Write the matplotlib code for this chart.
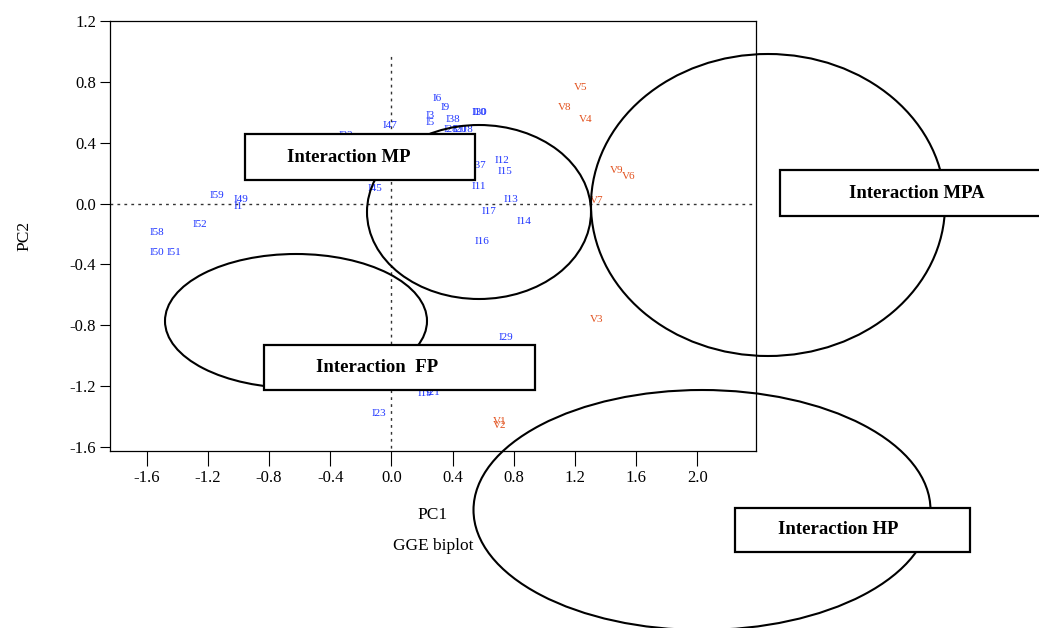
import matplotlib
matplotlib.use("Agg")
import matplotlib.pyplot as plt
from matplotlib.patches import Ellipse, Rectangle

plt.rcParams['font.family'] = ['Liberation Serif', 'DejaVu Serif']

# genotype (blue) labels and PC scores
gen_names = ["I6", "I9", "I3", "I5", "I38", "I28", "I20", "I18", "I10", "I30",
             "I47", "I22", "I12", "I15", "I37", "I11", "I13", "I17", "I14", "I16",
             "I45", "I59", "I49", "I1", "I52", "I58", "I50", "I51", "I29", "I23",
             "I19", "I21"]
gen_pc1 = [0.30, 0.35, 0.25, 0.25, 0.40, 0.39, 0.45, 0.49, 0.57, 0.58,
           -0.01, -0.30, 0.72, 0.74, 0.57, 0.57, 0.78, 0.64, 0.87, 0.59,
           -0.11, -1.14, -0.98, -1.00, -1.25, -1.53, -1.53, -1.42, 0.75, -0.08,
           0.22, 0.27]
gen_pc2 = [0.69, 0.63, 0.58, 0.53, 0.55, 0.49, 0.49, 0.49, 0.60, 0.60,
           0.51, 0.45, 0.28, 0.21, 0.25, 0.11, 0.03, -0.05, -0.12, -0.25,
           0.10, 0.05, 0.03, -0.02, -0.14, -0.19, -0.32, -0.32, -0.88, -1.38,
           -1.25, -1.24]

# environment (orange) labels and PC scores
env_names = ["V5", "V8", "V4", "V9", "V6", "V7", "V3", "V1", "V2"]
env_pc1 = [1.24, 1.13, 1.27, 1.47, 1.55, 1.34, 1.34, 0.71, 0.71]
env_pc2 = [0.76, 0.63, 0.55, 0.22, 0.18, 0.02, -0.76, -1.43, -1.46]

xticks = [-1.6, -1.2, -0.8, -0.4, 0.0, 0.4, 0.8, 1.2, 1.6, 2.0]
yticks = [1.2, 0.8, 0.4, 0.0, -0.4, -0.8, -1.2, -1.6]

W, H = 1039, 628
fig = plt.figure(figsize=(W / 100, H / 100), dpi=100)
ax = fig.add_axes([110 / W, 1 - 451 / H, (756 - 110) / W, (451 - 21) / H])

ax.set_xlim(-1.839, 2.383)
ax.set_ylim(-1.626, 1.2)

ax.axhline(0, color="#333333", lw=1, ls=(0, (2, 3)))
ax.vlines(0, -1.7, 0.97, color="#333333", lw=1, linestyles=[(0, (2, 3))])

for n, x, y in zip(gen_names, gen_pc1, gen_pc2):
    ax.text(x, y, n, color="#1f35ff", fontsize=8, ha="center", va="center")
for n, x, y in zip(env_names, env_pc1, env_pc2):
    ax.text(x, y, n, color="#e2501c", fontsize=8, ha="center", va="center")

ax.set_xticks(xticks)
ax.set_yticks(yticks)
ax.set_xticklabels(["%.1f" % v for v in xticks])
ax.set_yticklabels(["%.1f" % v for v in yticks])
ax.tick_params(axis="x", direction="out", length=11, pad=3, labelsize=12)
ax.tick_params(axis="y", direction="out", length=7, pad=3, labelsize=12)
for s in ax.spines.values():
    s.set_linewidth(0.9)

ax.set_xlabel("PC1\n\nGGE biplot", fontsize=12.5, linespacing=0.95, labelpad=15)
ax.set_ylabel("PC2", fontsize=12.5, labelpad=27)

# overlays drawn in pixel space (y measured from top)
tr = fig.dpi_scale_trans


def pt(x, y):
    return (x / 100, (H - y) / 100)


ellipses = [(479, 212, 224, 174), (296, 321, 262, 134),
            (768, 205, 354, 302), (702, 510, 457, 240)]
for cx, cy, w, h in ellipses:
    fig.add_artist(Ellipse(pt(cx, cy), w / 100, h / 100, transform=tr,
                           fill=False, edgecolor="black", lw=1.5, zorder=5))

boxes = [(245, 134, 475, 180, "Interaction MP", 349),
         (264, 345, 535, 390, "Interaction  FP", 377),
         (780, 170, 1045, 216, "Interaction MPA", 917),
         (735, 508, 970, 552, "Interaction HP", 838)]
for x0, y0, x1, y1, label, tx in boxes:
    fig.add_artist(Rectangle(pt(x0, y1), (x1 - x0) / 100, (y1 - y0) / 100,
                             transform=tr, facecolor="white", edgecolor="black",
                             lw=1.6, zorder=6))
    fig.text(tx / W, 1 - (y0 + y1) / 2 / H, label, fontsize=13.5,
             fontweight="bold", ha="center", va="center", zorder=7)

fig.savefig("out.png", dpi=100)
